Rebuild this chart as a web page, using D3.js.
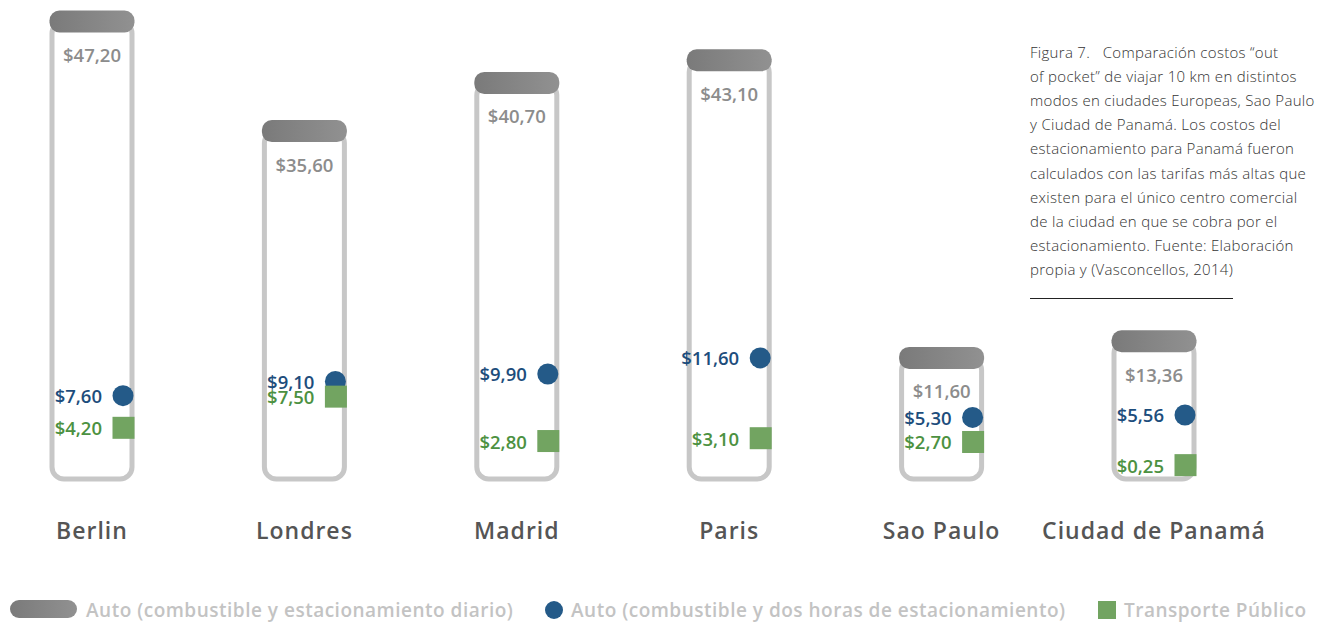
<!DOCTYPE html>
<html>
<head>
<meta charset="utf-8">
<script src="https://cdn.jsdelivr.net/npm/d3@7"></script>
<style>
  html, body { margin: 0; padding: 0; background: #fff; }
  svg { display: block; font-family: "Open Sans", Lato, sans-serif; }
</style>
</head>
<body>
<svg id="chart" width="1326" height="623"></svg>
<script>
// values (US$ per 10 km)
var cities = ['Berlin', 'Londres', 'Madrid', 'Paris', 'Sao Paulo', 'Ciudad de Panamá'];
var autoDiario = [47.20, 35.60, 40.70, 43.10, 11.60, 13.36];
var autoDosHoras = [7.60, 9.10, 9.90, 11.60, 5.30, 5.56];
var transporte = [4.20, 7.50, 2.80, 3.10, 2.70, 0.25];

var legendLabels = [
  'Auto (combustible y estacionamiento diario)',
  'Auto (combustible y dos horas de estacionamiento)',
  'Transporte Público'
];

var captionLines = [
  'Figura 7.   Comparación costos “out',
  'of pocket” de viajar 10 km en distintos',
  'modos en ciudades Europeas, Sao Paulo',
  'y Ciudad de Panamá. Los costos del',
  'estacionamiento para Panamá fueron',
  'calculados con las tarifas más altas que',
  'existen para el único centro comercial',
  'de la ciudad en que se cobra por el',
  'estacionamiento. Fuente: Elaboración',
  'propia y (Vasconcellos, 2014)'
];

var colors = {
  cap0: '#7a7a7a', cap1: '#919191',
  tube: '#c7c7c7',
  capText: '#8c8c8c',
  blue: '#245a88', blueText: '#1d4d7c',
  green: '#72a461', greenText: '#4c9141',
  city: '#555555',
  legend: '#c3c3c3',
  caption: '#333333'
};

var svg = d3.select('#chart');

var x = d3.scalePoint()
  .domain(cities)
  .range([92, 1154]);

var y = d3.scaleLinear()
  .domain([0, d3.max(autoDiario)])
  .range([467.5, 21.5]);

var tubeW = 80, tubeBottom = 479, capW = 85, capH = 22;

function money(v) {
  return '$' + v.toFixed(2).replace('.', ',');
}

var defs = svg.append('defs');
var grad = defs.append('linearGradient').attr('id', 'capGrad');
grad.append('stop').attr('offset', '0%').attr('stop-color', colors.cap0);
grad.append('stop').attr('offset', '100%').attr('stop-color', colors.cap1);

var rows = cities.map(function(c, i) {
  return { city: c, diario: autoDiario[i], dos: autoDosHoras[i], tp: transporte[i] };
});

var g = svg.append('g').selectAll('g.city')
  .data(rows)
  .enter().append('g')
  .attr('class', 'city')
  .attr('transform', function(d) { return 'translate(' + x(d.city) + ',0)'; });

// tube outline
g.append('rect')
  .attr('x', -tubeW / 2)
  .attr('y', function(d) { return y(d.diario); })
  .attr('width', tubeW)
  .attr('height', function(d) { return tubeBottom - y(d.diario); })
  .attr('rx', 12)
  .attr('fill', '#fff')
  .attr('stroke', colors.tube)
  .attr('stroke-width', 5);

// cap = daily parking value
g.append('rect')
  .attr('x', -capW / 2)
  .attr('y', function(d) { return y(d.diario) - capH / 2; })
  .attr('width', capW)
  .attr('height', capH)
  .attr('rx', 10)
  .attr('fill', 'url(#capGrad)');

function valueText(sel) {
  sel.attr('dominant-baseline', 'central')
    .attr('font-size', 18.5)
    .attr('font-weight', 600);
}

g.append('text')
  .attr('y', function(d) { return y(d.diario) + 33; })
  .attr('text-anchor', 'middle')
  .call(valueText)
  .attr('fill', colors.capText)
  .text(function(d) { return money(d.diario); });

// two hours parking
g.append('circle')
  .attr('cx', 31)
  .attr('cy', function(d) { return y(d.dos); })
  .attr('r', 10.5)
  .attr('fill', colors.blue);

g.append('text')
  .attr('x', 10)
  .attr('y', function(d) { return y(d.dos); })
  .attr('text-anchor', 'end')
  .call(valueText)
  .attr('fill', colors.blueText)
  .text(function(d) { return money(d.dos); });

// public transport
g.append('rect')
  .attr('x', 20.5)
  .attr('y', function(d) { return y(d.tp) - 11; })
  .attr('width', 22)
  .attr('height', 22)
  .attr('fill', colors.green);

g.append('text')
  .attr('x', 10)
  .attr('y', function(d) { return y(d.tp); })
  .attr('text-anchor', 'end')
  .call(valueText)
  .attr('fill', colors.greenText)
  .text(function(d) { return money(d.tp); });

// city names
g.append('text')
  .attr('y', 530)
  .attr('text-anchor', 'middle')
  .attr('dominant-baseline', 'central')
  .attr('font-size', 23)
  .attr('font-weight', 600)
  .attr('letter-spacing', 1)
  .attr('fill', colors.city)
  .text(function(d) { return d.city; });

// caption
var cap = svg.append('text')
  .attr('x', 1030)
  .attr('font-size', 15)
  .attr('font-weight', 300)
  .attr('letter-spacing', 0.3)
  .attr('fill', colors.caption);
cap.selectAll('tspan')
  .data(captionLines)
  .enter().append('tspan')
  .attr('x', 1030)
  .attr('y', function(d, i) { return 58 + i * 24.1; })
  .style('white-space', 'pre')
  .text(function(d) { return d; });

svg.append('line')
  .attr('x1', 1030).attr('x2', 1233)
  .attr('y1', 298.5).attr('y2', 298.5)
  .attr('stroke', '#222')
  .attr('stroke-width', 1);

// legend
var leg = svg.append('g').attr('class', 'legend');
var legY = 609;
leg.append('rect')
  .attr('x', 10).attr('y', legY - 9)
  .attr('width', 67).attr('height', 18)
  .attr('rx', 9)
  .attr('fill', 'url(#capGrad)');
leg.append('circle')
  .attr('cx', 554).attr('cy', legY + 1)
  .attr('r', 9)
  .attr('fill', colors.blue);
leg.append('rect')
  .attr('x', 1098).attr('y', legY - 8)
  .attr('width', 18).attr('height', 18)
  .attr('fill', colors.green);

var legX = [86, 571, 1124];
leg.selectAll('text')
  .data(legendLabels)
  .enter().append('text')
  .attr('x', function(d, i) { return legX[i]; })
  .attr('y', legY + 1)
  .attr('dominant-baseline', 'central')
  .attr('font-size', 19)
  .attr('font-weight', 600)
  .attr('letter-spacing', 0.5)
  .attr('fill', colors.legend)
  .text(function(d) { return d; });
</script>
</body>
</html>
